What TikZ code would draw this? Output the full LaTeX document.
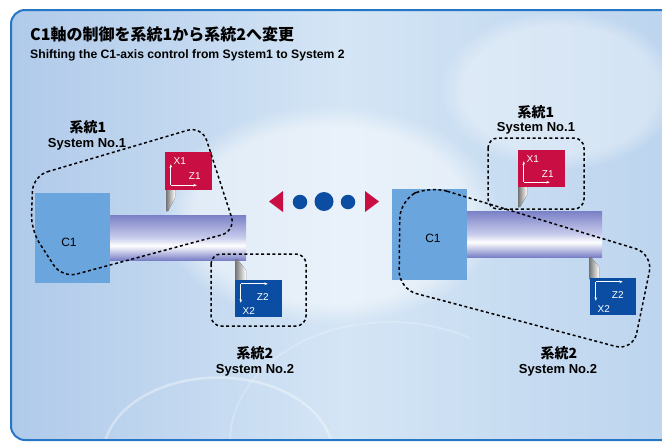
\documentclass[tikz,border=0pt]{standalone}
\usepackage{fontspec}
\setmainfont{Liberation Sans}
\newfontfamily\cjk{Noto Sans CJK JP}
\usetikzlibrary{arrows.meta,fadings,calc}

\definecolor{panelL}{RGB}{176,202,234}
\definecolor{panelM}{RGB}{212,229,245}
\definecolor{panelR}{RGB}{188,212,238}
\definecolor{frameblue}{RGB}{38,118,198}
\definecolor{chuckblue}{RGB}{106,166,221}
\definecolor{shaftD}{RGB}{122,128,198}
\definecolor{shaftM}{RGB}{200,204,236}
\definecolor{toolred}{RGB}{200,14,66}
\definecolor{toolblue}{RGB}{10,77,162}

\pgfdeclareverticalshading{shaftshade}{100bp}{color(0bp)=(shaftD); color(25bp)=(shaftD); color(41bp)=(white); color(50bp)=(shaftM); color(75bp)=(shaftD); color(100bp)=(shaftD)}

\tikzset{
  chuck/.style={fill=chuckblue, draw=none, minimum width=75pt, minimum height=90pt, inner sep=0pt},
  shaftbar/.style={shading=shaftshade},
  stem/.style={left color=black!55, right color=white, draw=none},
  redtool/.style={fill=toolred, draw=none, minimum width=47pt, minimum height=38pt, inner sep=0pt},
  bluetool/.style={fill=toolblue, draw=none, minimum width=47pt, minimum height=37pt, inner sep=0pt},
  axisline/.style={white, line width=0.7pt, -{Stealth[length=3.5pt,width=2.6pt]}},
  axistext/.style={text=white, font=\fontsize{10}{11}\selectfont, inner sep=0pt},
  loop/.style={draw=black, line width=1.5pt, dash pattern=on 3pt off 2.6pt},
  jplabel/.style={font=\cjk\bfseries\fontsize{14}{15}\selectfont, inner sep=0pt},
  enlabel/.style={font=\bfseries\fontsize{13}{14}\selectfont, inner sep=0pt},
  c1text/.style={font=\fontsize{12}{13}\selectfont, inner sep=0pt},
  dot/.style={circle, fill=toolblue, draw=none, inner sep=0pt},
  pointer/.style={fill=toolred, draw=none}
}

\begin{document}
\begin{tikzpicture}[x=1pt, y=-1pt]
\useasboundingbox (0,0) rectangle (662,442);

% panel
\shade[left color=panelL, right color=panelR, middle color=panelM] [rounded corners=14pt] (11,10) rectangle (676,440);
\begin{scope}
  \clip[rounded corners=14pt] (11,10) rectangle (676,440);
  \fill[white, opacity=0.5, path fading=circle with fuzzy edge 20 percent] (330,215) ellipse [x radius=170pt, y radius=110pt];
  \fill[white, opacity=0.35, path fading=circle with fuzzy edge 20 percent] (560,90) ellipse [x radius=120pt, y radius=80pt];
  \draw[white, opacity=0.35, line width=2.5pt] (105,442) arc[start angle=190, end angle=350, x radius=115pt, y radius=-78pt];
  \draw[white, opacity=0.2, line width=2pt] (230,442) arc[start angle=180, end angle=300, x radius=160pt, y radius=-120pt];
\end{scope}
\draw[frameblue, line width=2pt, rounded corners=14pt] (11,10) rectangle (676,440);

% headings
\node[anchor=base west, font=\cjk\bfseries\fontsize{16}{18}\selectfont, inner sep=0pt] (title) at (30,40) {C1軸の制御を系統1から系統2へ変更};
\node[anchor=base west, font=\bfseries\fontsize{12.2}{13}\selectfont, inner sep=0pt] (subtitle) at (30,58) {Shifting the C1-axis control from System1 to System 2};

% ---------- left machine ----------
\shade[shaftbar] (109,215) rectangle (246,260);
\node[chuck] (chuckL) at (72.5,237.5) {};
\node[c1text] (c1L) at (69,242) {C1};

\fill[stem] (166,189) -- (175,189) -- (175,198) -- (168,211) -- (166,211) -- cycle;
\node[redtool] (rtL) at (188.5,171) {};
\draw[axisline] ($(rtL.south west)+(6,-5)$) -- ++(0,-21);
\draw[axisline] ($(rtL.south west)+(6,-5)$) -- ++(26,0);
\node[axistext] (x1L) at ($(rtL.north west)+(15,9)$) {X1};
\node[axistext] (z1L) at ($(rtL.north west)+(30,24)$) {Z1};

\fill[stem] (235,259) -- (237,259) -- (246,270) -- (246,281) -- (235,281) -- cycle;
\node[bluetool] (btL) at (258.5,298.5) {};
\draw[axisline] ($(btL.north west)+(6,4)$) -- ++(0,19);
\draw[axisline] ($(btL.north west)+(6,4)$) -- ++(27,0);
\node[axistext] (z2L) at ($(btL.north west)+(28,17)$) {Z2};
\node[axistext] (x2L) at ($(btL.north west)+(14,31)$) {X2};

\draw[loop, rounded corners=15pt] (33,176) -- (202,126) -- (236,231) -- (62,278) -- (31,230) -- cycle;
\draw[loop, rounded corners=10pt] (211,254) rectangle (306,326);

\node[jplabel] (s1jL) at (88,127) {系統1};
\node[enlabel] (s1eL) at (87,144) {System No.1};
\node[jplabel] (s2jL) at (255,353) {系統2};
\node[enlabel] (s2eL) at (255,370) {System No.2};

% ---------- transfer sign ----------
\fill[pointer] (269,201.5) -- (283,191) -- (283,212) -- cycle;
\node[dot, minimum size=14.5pt] (d1) at (300,202) {};
\node[dot, minimum size=19pt] (d2) at (324,201.5) {};
\node[dot, minimum size=14.5pt] (d3) at (348,202) {};
\fill[pointer] (379,201.5) -- (365,191) -- (365,212) -- cycle;

% ---------- right machine ----------
\shade[shaftbar] (466,211) rectangle (602,257);
\node[chuck, minimum height=91pt] (chuckR) at (429.5,234.5) {};
\node[c1text] (c1R) at (433,238) {C1};

\fill[stem] (518,186) -- (527,186) -- (527,195) -- (520,207) -- (518,207) -- cycle;
\node[redtool, minimum height=37pt] (rtR) at (541.5,168.5) {};
\draw[axisline] ($(rtR.south west)+(6,-5)$) -- ++(0,-21);
\draw[axisline] ($(rtR.south west)+(6,-5)$) -- ++(26,0);
\node[axistext] (x1R) at ($(rtR.north west)+(15,9)$) {X1};
\node[axistext] (z1R) at ($(rtR.north west)+(30,24)$) {Z1};

\fill[stem] (589,257) -- (591,257) -- (599,267) -- (599,279) -- (589,279) -- cycle;
\node[bluetool, minimum width=46pt] (btR) at (613,296.5) {};
\draw[axisline] ($(btR.north west)+(6,4)$) -- ++(0,19);
\draw[axisline] ($(btR.north west)+(6,4)$) -- ++(27,0);
\node[axistext] (z2R) at ($(btR.north west)+(28,17)$) {Z2};
\node[axistext] (x2R) at ($(btR.north west)+(14,31)$) {X2};

\draw[loop, rounded corners=10pt] (488,138) rectangle (584,209);
\draw[loop, rounded corners=18pt] (430,186) -- (653,254) -- (633,351) -- (399,289) -- (400,200) -- cycle;

\node[jplabel] (s1jR) at (536,112) {系統1};
\node[enlabel] (s1eR) at (536,128) {System No.1};
\node[jplabel] (s2jR) at (559,353) {系統2};
\node[enlabel] (s2eR) at (558,370) {System No.2};
\end{tikzpicture}
\end{document}
